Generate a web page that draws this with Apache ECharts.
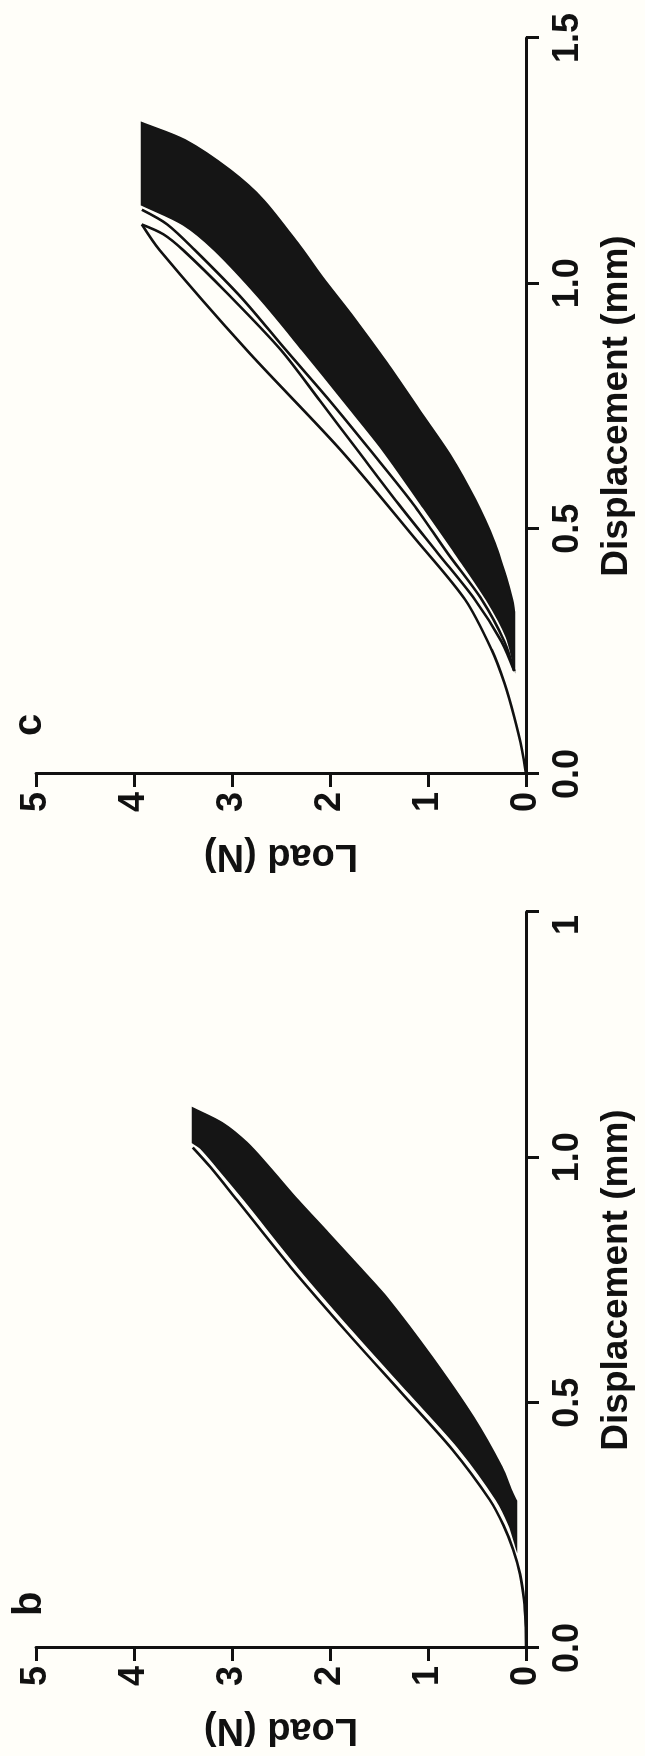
<!DOCTYPE html>
<html>
<head>
<meta charset="utf-8">
<script src="https://cdn.jsdelivr.net/npm/echarts@6/dist/echarts.min.js"></script>
<style>
html,body{margin:0;padding:0;width:645px;height:1756px;overflow:hidden;background:#fffef9;}
#wrap{position:absolute;left:0;top:0;width:1756px;height:645px;transform-origin:0 0;transform:translate(0,1756px) rotate(-90deg);}
</style>
</head>
<body>
<div id="wrap"></div>
<script>
// ---- tick labels ----
const loadTicks = ['0','1','2','3','4','5'];
const dispTicksB = ['0.0','0.5','1.0','1'];
const dispTicksC = ['0.0','0.5','1.0','1.5'];

// ---- panel b : [displacement mm, load N] ----
const firstLoadB = [[0,0],[0.05,0.004],[0.098,0.02],[0.15,0.06],[0.2,0.13],[0.25,0.23],[0.302,0.37],[0.404,0.75],[0.52,1.27],[0.642,1.82],[0.776,2.40],[0.913,2.95],[0.98,3.22],[1.02,3.40]];
const bandLeftB = [[0.206,0.10],[0.25,0.17],[0.302,0.30],[0.404,0.67],[0.52,1.19],[0.642,1.74],[0.776,2.32],[0.913,2.87],[0.98,3.15],[1.019,3.32],[1.03,3.40]];
const bandRightB = [[1.10,3.40],[1.07,3.10],[1.03,2.85],[0.98,2.62],[0.913,2.33],[0.846,2.02],[0.776,1.70],[0.709,1.40],[0.593,0.96],[0.471,0.54],[0.369,0.25],[0.316,0.14],[0.30,0.10]];

// ---- panel c : [displacement mm, load N] ----
const firstLoadC = [[0,0],[0.049,0.04],[0.116,0.12],[0.185,0.22],[0.253,0.35],[0.355,0.62],[0.477,1.12],[0.66,1.89],[0.864,2.85],[1.068,3.74],[1.12,3.92]];
const firstUnloadC = [[1.12,3.92],[1.10,3.70],[1.068,3.50],[0.98,3.05],[0.864,2.50],[0.76,2.10],[0.66,1.72],[0.55,1.30],[0.45,0.90],[0.355,0.52],[0.27,0.25],[0.21,0.12]];
const secondLoadC = [[0.21,0.12],[0.27,0.22],[0.355,0.45],[0.45,0.80],[0.55,1.15],[0.66,1.59],[0.76,2.00],[0.864,2.45],[0.97,2.90],[1.068,3.38],[1.12,3.66],[1.15,3.92]];
const bandLeftC = [[0.22,0.12],[0.28,0.20],[0.355,0.40],[0.45,0.72],[0.55,1.07],[0.66,1.46],[0.76,1.86],[0.864,2.28],[0.97,2.72],[1.068,3.18],[1.12,3.50],[1.16,3.92]];
const bandRightC = [[1.327,3.92],[1.292,3.48],[1.231,3.02],[1.17,2.68],[1.074,2.30],[1.013,2.08],[0.931,1.76],[0.838,1.42],[0.742,1.09],[0.646,0.76],[0.56,0.52],[0.477,0.33],[0.40,0.20],[0.355,0.14],[0.33,0.12]];

const FONT = 'Liberation Sans, Arial, Helvetica, sans-serif';
const INK = '#111';

function polySeries(idx, left, right){
  return {
    type:'custom', xAxisIndex:idx, yAxisIndex:idx, data:left.concat(right), z:3, silent:true,
    renderItem:function(params, api){
      if(params.dataIndex!==0) return null;
      const p = [];
      [left, right].forEach(function(edge){
        edge.forEach(function(v, i){
          const c = api.coord(v);
          p.push(c);
          if(i===0 || i===edge.length-1) p.push(c.slice()); // keep corners sharp
        });
      });
      return {type:'polygon', shape:{points:p, smooth:0.3}, style:{fill:'#151515', stroke:'#151515', lineWidth:2}};
    }
  };
}
function lineSeries(idx, pts){
  return {type:'line', xAxisIndex:idx, yAxisIndex:idx, data:pts, showSymbol:false, smooth:0.3,
    lineStyle:{color:INK, width:2.6}, z:4, silent:true};
}
function xAxisDef(idx, ticks){
  return {
    type:'value', gridIndex:idx, min:0, max:1.5, interval:0.5,
    name:'Displacement (mm)', nameLocation:'middle', nameGap:72,
    nameTextStyle:{fontFamily:FONT, fontSize:37, fontWeight:'bold', color:INK},
    axisLine:{show:true, onZero:false, lineStyle:{color:INK, width:3}},
    axisTick:{show:true, inside:false, length:13, lineStyle:{color:INK, width:3}},
    splitLine:{show:false},
    axisLabel:{margin:24, fontFamily:FONT, fontSize:36, fontWeight:'bold', color:INK,
      formatter:function(v){
        const i = Math.round(v/0.5); const t = ticks[i];
        if(t==='1') return '{s|1}';
        return t;
      },
      rich:{s:{fontFamily:FONT, fontSize:36, fontWeight:'bold', color:INK, padding:[0,26,0,0]}}
    }
  };
}
function yAxisDef(idx){
  return {
    type:'value', gridIndex:idx, min:0, max:5, interval:1,
    name:'Load (N)', nameLocation:'middle', nameGap:62,
    nameTextStyle:{fontFamily:FONT, fontSize:38, fontWeight:'bold', color:INK},
    axisLine:{show:true, onZero:false, lineStyle:{color:INK, width:3}},
    axisTick:{show:true, inside:false, length:13, lineStyle:{color:INK, width:3}},
    splitLine:{show:false},
    axisLabel:{margin:18, fontFamily:FONT, fontSize:36, fontWeight:'bold', color:INK,
      formatter:function(v){ return loadTicks[Math.round(v)]; }}
  };
}

const chart = echarts.init(document.getElementById('wrap'), null, {renderer:'canvas', width:1756, height:645});
chart.setOption({
  animation:false,
  backgroundColor:'#fffef9',
  grid:[
    {left:108, top:36, width:736, height:490},
    {left:982, top:36, width:736, height:490}
  ],
  xAxis:[xAxisDef(0, dispTicksB), xAxisDef(1, dispTicksC)],
  yAxis:[yAxisDef(0), yAxisDef(1)],
  graphic:[
    {type:'text', left:140, top:10, style:{text:'b', fontFamily:FONT, fontSize:40, fontWeight:'bold', fill:INK}},
    {type:'text', left:1020, top:10, style:{text:'c', fontFamily:FONT, fontSize:40, fontWeight:'bold', fill:INK}}
  ],
  series:[
    polySeries(0, bandLeftB, bandRightB),
    lineSeries(0, firstLoadB),
    polySeries(1, bandLeftC, bandRightC),
    lineSeries(1, firstLoadC),
    lineSeries(1, firstUnloadC),
    lineSeries(1, secondLoadC)
  ]
});
</script>
</body>
</html>
